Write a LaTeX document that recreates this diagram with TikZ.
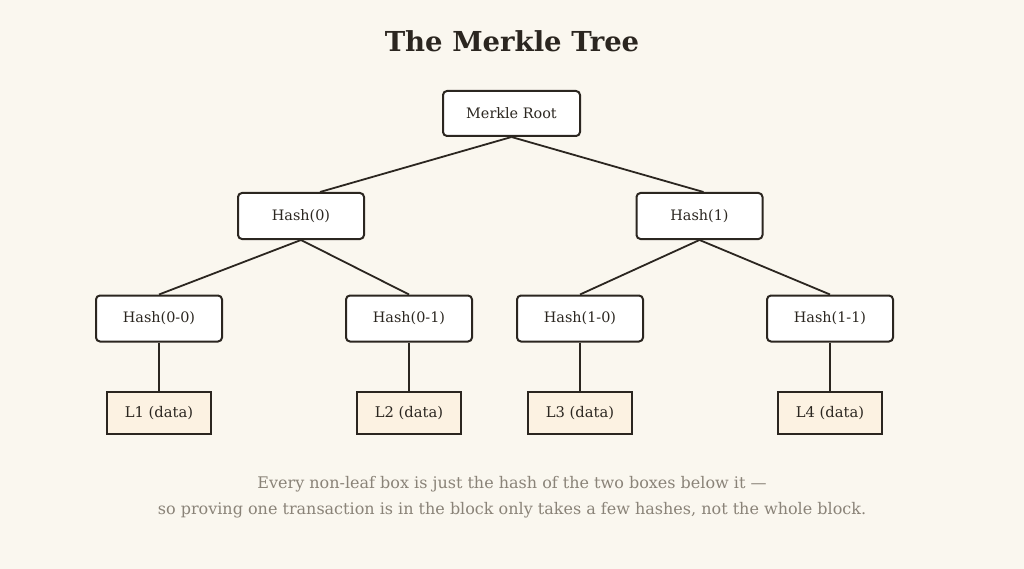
\documentclass[tikz,border=0pt]{standalone}
\usepackage{fontspec}
\setmainfont{DejaVu Serif}
\definecolor{bg}{HTML}{FAF7EF}
\definecolor{ink}{HTML}{2B2620}
\definecolor{leaf}{HTML}{FCF2E2}
\definecolor{cap}{HTML}{8A8378}
\begin{document}
\begin{tikzpicture}[x=1pt,y=-1pt,
  hb/.style={draw=ink,line width=2pt,rounded corners=4pt,fill=white,minimum width=126pt,minimum height=46pt,font=\fontsize{14.4}{16}\selectfont,text=ink,inner sep=0},
  lb/.style={draw=ink,line width=1.7pt,fill=leaf,minimum width=104pt,minimum height=42pt,font=\fontsize{14.7}{16}\selectfont,text=ink,inner sep=0},
  ed/.style={draw=ink,line width=1.8pt}]
\fill[bg] (0,0) rectangle (1024,569);
\useasboundingbox (0,0) rectangle (1024,569);
\node[font=\fontsize{27.5}{30}\selectfont\bfseries,text=ink] (t) at (512,41) {The Merkle Tree};
\node[hb,minimum width=137pt,minimum height=45pt] (r) at (511.5,113.5) {Merkle Root};
\node[hb] (h0) at (301,216) {Hash(0)};
\node[hb] (h1) at (699.5,216) {Hash(1)};
\node[hb] (a) at (159,318.5) {Hash(0-0)};
\node[hb] (b) at (409,318.5) {Hash(0-1)};
\node[hb] (c) at (580,318.5) {Hash(1-0)};
\node[hb] (d) at (830,318.5) {Hash(1-1)};
\node[lb] (l1) at (159,413) {L1 (data)};
\node[lb] (l2) at (409,413) {L2 (data)};
\node[lb] (l3) at (580,413) {L3 (data)};
\node[lb] (l4) at (830,413) {L4 (data)};
\draw[ed] (r.south) -- ([xshift=19pt]h0.north);
\draw[ed] (r.south) -- ([xshift=4pt]h1.north);
\draw[ed] (h0.south) -- (a.north);
\draw[ed] (h0.south) -- (b.north);
\draw[ed] (h1.south) -- (c.north);
\draw[ed] (h1.south) -- (d.north);
\draw[ed] (a) -- (l1);
\draw[ed] (b) -- (l2);
\draw[ed] (c) -- (l3);
\draw[ed] (d) -- (l4);
\node[text=cap,font=\fontsize{16}{18}\selectfont] (c1) at (512,484) {Every non-leaf box is just the hash of the two boxes below it —};
\node[text=cap,font=\fontsize{16}{18}\selectfont] (c2) at (512,510) {so proving one transaction is in the block only takes a few hashes, not the whole block.};
\end{tikzpicture}
\end{document}
